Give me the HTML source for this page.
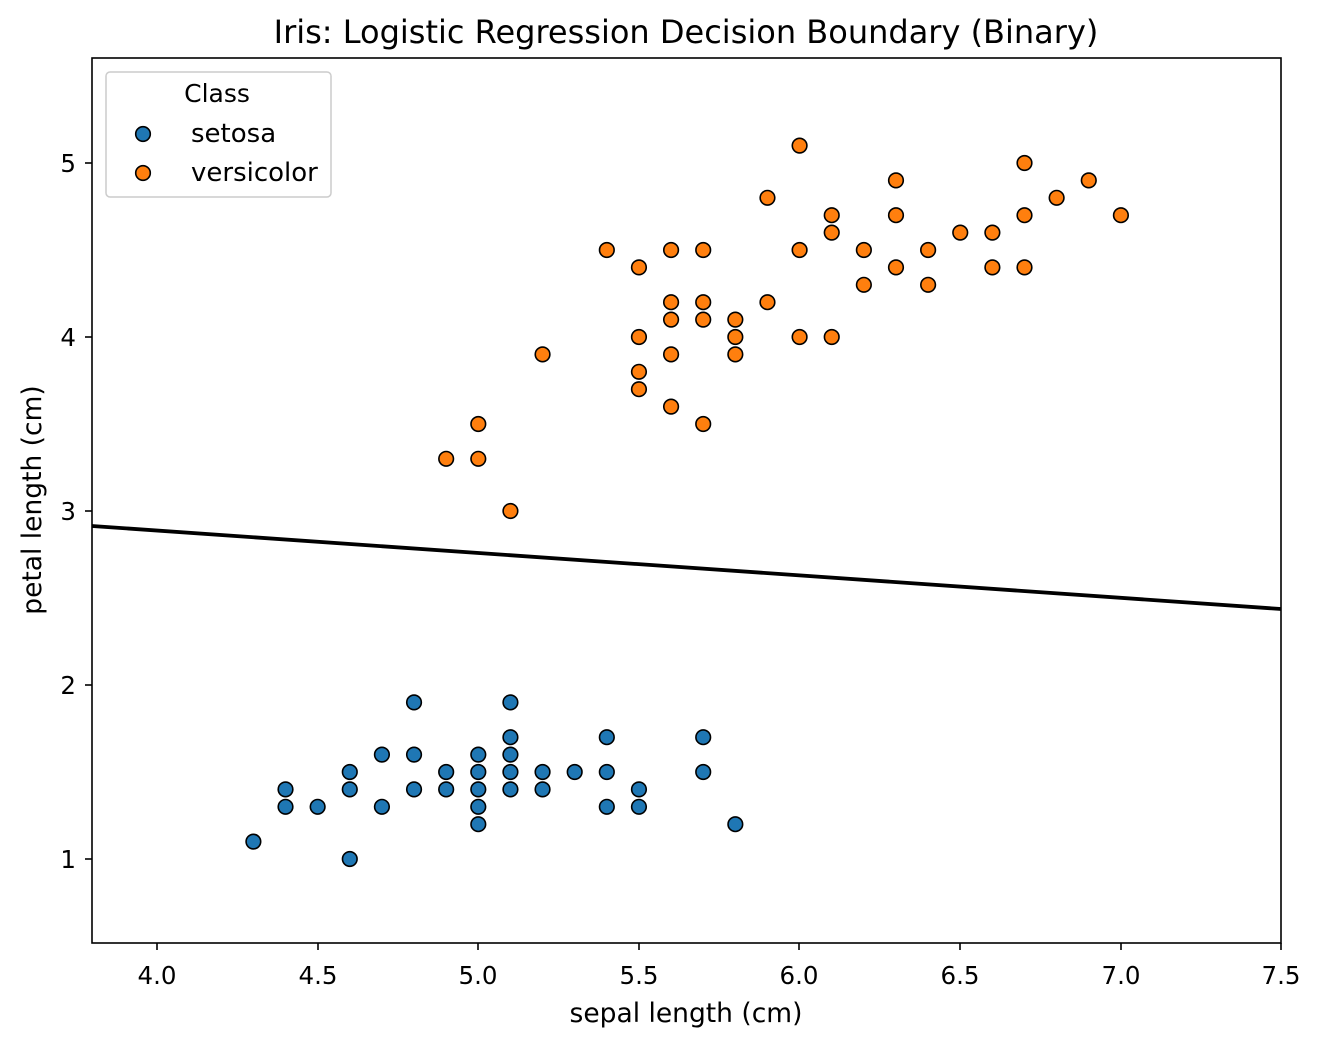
<!DOCTYPE html>
<html><head><meta charset="utf-8"><style>
body{margin:0;background:#fff}
svg text{font-family:"DejaVu Sans","Liberation Sans",sans-serif;fill:#000}
</style></head><body>
<svg id="s" width="1322" height="1046" xmlns="http://www.w3.org/2000/svg">
<rect width="1322" height="1046" fill="#fff"/>
<text x="686" y="43" font-size="32" text-anchor="middle">Iris: Logistic Regression Decision Boundary (Binary)</text>
<g id="pts"></g>
<line x1="92" y1="526" x2="1281" y2="609" stroke="#000" stroke-width="3.8"/>
<rect x="92" y="58" width="1189" height="885" fill="none" stroke="#000" stroke-width="1.6"/>
<g font-size="24.5" text-anchor="middle">
<text x="157" y="984">4.0</text><text x="318" y="984">4.5</text><text x="478" y="984">5.0</text><text x="639" y="984">5.5</text><text x="799" y="984">6.0</text><text x="960" y="984">6.5</text><text x="1121" y="984">7.0</text><text x="1281" y="984">7.5</text>
</g>
<text x="686" y="1022" font-size="26.5" text-anchor="middle">sepal length (cm)</text>
<g font-size="24.5" text-anchor="end">
<text x="76" y="868">1</text><text x="76" y="694">2</text><text x="76" y="520">3</text><text x="76" y="346">4</text><text x="76" y="172">5</text>
</g>
<text transform="translate(41,500) rotate(-90)" font-size="26.5" text-anchor="middle">petal length (cm)</text>
<g stroke="#000" stroke-width="1.6">
<line x1="157" y1="943" x2="157" y2="950"/><line x1="318" y1="943" x2="318" y2="950"/><line x1="478" y1="943" x2="478" y2="950"/><line x1="639" y1="943" x2="639" y2="950"/><line x1="799" y1="943" x2="799" y2="950"/><line x1="960" y1="943" x2="960" y2="950"/><line x1="1121" y1="943" x2="1121" y2="950"/><line x1="1281" y1="943" x2="1281" y2="950"/>
<line x1="85" y1="859" x2="92" y2="859"/><line x1="85" y1="685" x2="92" y2="685"/><line x1="85" y1="511" x2="92" y2="511"/><line x1="85" y1="337" x2="92" y2="337"/><line x1="85" y1="163" x2="92" y2="163"/>
</g>
<rect x="106" y="72" width="225" height="125" rx="4" fill="#fff" fill-opacity="0.8" stroke="#ccc" stroke-width="1.5"/>
<text x="217" y="102" font-size="25" text-anchor="middle">Class</text>
<circle cx="143" cy="134" r="7.3" fill="#1f77b4" stroke="#000" stroke-width="1.6"/>
<circle cx="143" cy="173" r="7.3" fill="#ff7f0e" stroke="#000" stroke-width="1.6"/>
<text x="191" y="142" font-size="26">setosa</text>
<text x="191" y="181" font-size="26">versicolor</text>
</svg>
<script>
var s=[[4.3,1.1],[4.4,1.4],[4.4,1.3],[4.5,1.3],[4.6,1.5],[4.6,1.4],[4.6,1.0],[4.7,1.6],[4.7,1.3],[4.8,1.9],[4.8,1.6],[4.8,1.4],[4.9,1.5],[4.9,1.4],[5.0,1.6],[5.0,1.5],[5.0,1.4],[5.0,1.3],[5.0,1.2],[5.1,1.9],[5.1,1.7],[5.1,1.6],[5.1,1.5],[5.1,1.4],[5.2,1.5],[5.2,1.4],[5.3,1.5],[5.4,1.7],[5.4,1.5],[5.4,1.3],[5.5,1.4],[5.5,1.3],[5.7,1.7],[5.7,1.5],[5.8,1.2]];
var v=[[4.9,3.3],[5.0,3.5],[5.0,3.3],[5.1,3.0],[5.2,3.9],[5.4,4.5],[5.5,4.4],[5.5,4.0],[5.5,3.8],[5.5,3.7],[5.6,4.5],[5.6,4.2],[5.6,4.1],[5.6,3.9],[5.6,3.6],[5.7,4.5],[5.7,4.2],[5.7,4.1],[5.7,3.5],[5.8,4.1],[5.8,4.0],[5.8,3.9],[5.9,4.8],[5.9,4.2],[6.0,5.1],[6.0,4.5],[6.0,4.0],[6.1,4.7],[6.1,4.6],[6.1,4.0],[6.2,4.5],[6.2,4.3],[6.3,4.9],[6.3,4.7],[6.3,4.4],[6.4,4.5],[6.4,4.3],[6.5,4.6],[6.6,4.6],[6.6,4.4],[6.7,5.0],[6.7,4.7],[6.7,4.4],[6.8,4.8],[6.9,4.9],[7.0,4.7]];
var h='';
function add(a,c){a.forEach(function(p){h+='<circle cx="'+(157+(p[0]-4)*321.3)+'" cy="'+(859-(p[1]-1)*174)+'" r="7.3" fill="'+c+'" stroke="#000" stroke-width="1.6"/>';});}
add(s,'#1f77b4');add(v,'#ff7f0e');
document.getElementById('pts').innerHTML=h;
</script>
</body></html>
